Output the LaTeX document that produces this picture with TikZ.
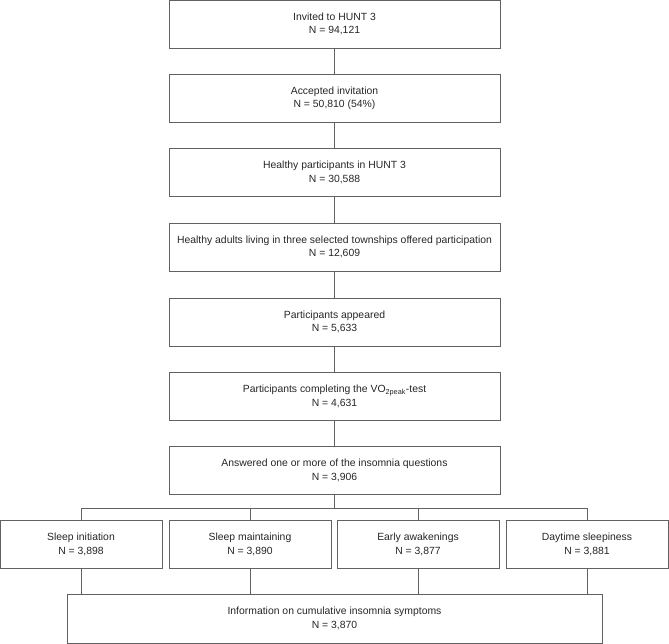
\documentclass[tikz,border=0pt]{standalone}
\usepackage{fontspec}
\setmainfont{Liberation Sans}
\begin{document}
\begin{tikzpicture}[x=1pt,y=-1pt,
  box/.style={draw=black!62,line width=0.9pt,text=black!85,align=center,
    font=\fontsize{10.4}{13.5}\selectfont,inner sep=0pt,minimum height=48pt},
  main/.style={box,minimum width=331pt},
  sub/.style={box,minimum width=162pt},
  link/.style={draw=black!62,line width=0.9pt}]
\useasboundingbox (0,0) rectangle (669,644);

\node[main] (a) at (334.5,24)  {Invited to HUNT 3\\N = 94,121};
\node[main] (b) at (334.5,98.5) {Accepted invitation\\N = 50,810 (54\%)};
\node[main] (c) at (334.5,172.5) {Healthy participants in HUNT 3\\N = 30,588};
\node[main] (d) at (334.5,247) {Healthy adults living in three selected townships offered participation\\N = 12,609};
\node[main] (e) at (334.5,322) {Participants appeared\\N = 5,633};
\node[main] (f) at (334.5,396.5) {Participants completing the VO\textsubscript{2peak}-test\\N = 4,631};
\node[main] (g) at (334.5,470.5) {Answered one or more of the insomnia questions\\N = 3,906};

\node[sub] (s1) at (81,544.5)  {Sleep initiation\\N = 3,898};
\node[sub] (s2) at (250,544.5) {Sleep maintaining\\N = 3,890};
\node[sub] (s3) at (418,544.5) {Early awakenings\\N = 3,877};
\node[sub] (s4) at (587,544.5) {Daytime sleepiness\\N = 3,881};

\node[box,minimum width=535pt,minimum height=49pt] (h) at (334.5,618.5)
  {Information on cumulative insomnia symptoms\\N = 3,870};

\foreach \u/\v in {a/b,b/c,c/d,d/e,e/f,f/g}
  \draw[link] (\u.south) -- (\v.north);

\coordinate (bus) at (334.5,508);
\foreach \s in {s1,s2,s3,s4}{
  \draw[link] (g.south) -- (bus) -| (\s.north);
  \draw[link] (\s.south) -- (\s.south |- h.north);
}
\end{tikzpicture}
\end{document}
